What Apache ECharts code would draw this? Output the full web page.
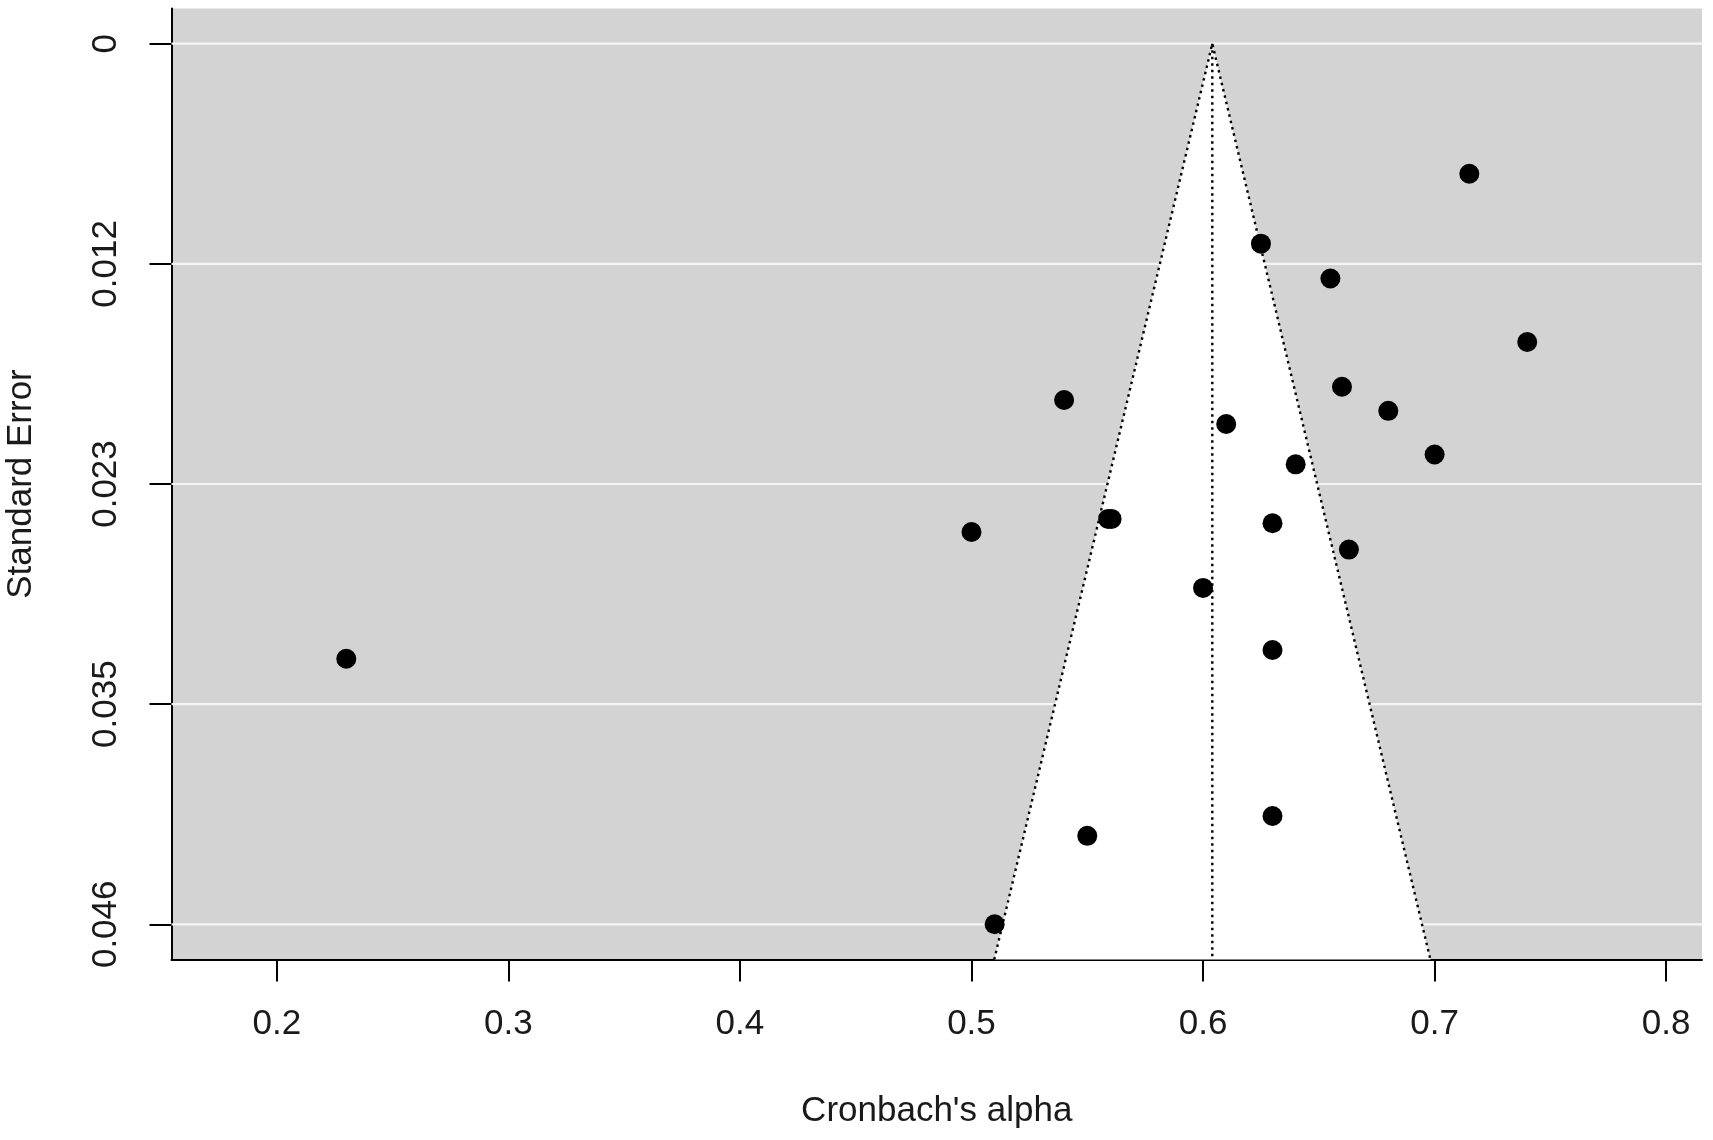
<!DOCTYPE html>
<html>
<head>
<meta charset="utf-8">
<title>Funnel plot</title>
<script src="https://cdn.jsdelivr.net/npm/echarts@6/dist/echarts.min.js"></script>
<style>
  html, body { margin: 0; padding: 0; background: #fff; }
  #chart { width: 1713px; height: 1140px; }
</style>
</head>
<body>
<div id="chart"></div>
<script>
// study estimates (Cronbach's alpha) and their standard errors
const alpha = [0.715, 0.625, 0.655, 0.74, 0.54, 0.66, 0.68, 0.61, 0.70, 0.64, 0.50,
  0.559, 0.5605, 0.63, 0.663, 0.60, 0.63, 0.23, 0.63, 0.55, 0.51]
const stdErr = [0.00682, 0.01049, 0.01232, 0.01565, 0.01869, 0.01800, 0.01926, 0.01995, 0.02155, 0.02207, 0.02562,
  0.02493, 0.02493, 0.02516, 0.02654, 0.02855, 0.03181, 0.03227, 0.04052, 0.04156, 0.0462]

// pooled estimate and 95% pseudo-confidence region
const pooled = 0.604
const zCrit = 1.96

// axis ticks
const xTicks = [0.2, 0.3, 0.4, 0.5, 0.6, 0.7, 0.8]
const xTickLabels = ['0.2', '0.3', '0.4', '0.5', '0.6', '0.7', '0.8']
const seMax = 0.0462
const yTicks = [0, seMax / 4, seMax / 2, seMax * 3 / 4, seMax]
const yTickLabels = ['0', '0.012', '0.023', '0.035', '0.046']

// R style limits: data range + 10%, then 4% axis padding
const xLo = Math.min(...alpha)
const xHi = Math.max(...alpha)
const xPad = (xHi - xLo) * 0.1
const xRange = (xHi - xLo) + 2 * xPad
const xMin = xLo - xPad - xRange * 0.04
const xMax = xHi + xPad + xRange * 0.04
const yMin = -seMax * 0.04
const yMax = seMax * 1.04

const FONT = '"Liberation Sans", Arial, Helvetica, sans-serif'
const TEXT = '#1a1a1a'

const chart = echarts.init(document.getElementById('chart'))

function nearestLabel(ticks, labels, v) {
  let best = 0
  ticks.forEach((t, i) => {
    if (Math.abs(t - v) < Math.abs(ticks[best] - v)) best = i
  })
  return labels[best]
}

function renderFunnel(params, api) {
  const dotted = { stroke: '#000', lineWidth: 2.4, lineDash: [2.5, 4], fill: null }
  const children = []
  // white reference lines at the tick positions
  yTicks.forEach(v => {
    const a = api.coord([xMin, v])
    const b = api.coord([xMax, v])
    children.push({
      type: 'line',
      shape: { x1: a[0], y1: a[1], x2: b[0], y2: b[1] },
      style: { stroke: '#f5f5f5', lineWidth: 2.2 }
    })
  })
  const left = api.coord([pooled - zCrit * yMax, yMax])
  const apex = api.coord([pooled, 0])
  const right = api.coord([pooled + zCrit * yMax, yMax])
  const base = api.coord([pooled, yMax])
  children.push({ type: 'polygon', shape: { points: [left, apex, right] }, style: { fill: '#fff' } })
  children.push({ type: 'polyline', shape: { points: [left, apex, right] }, style: dotted })
  children.push({ type: 'line', shape: { x1: apex[0], y1: apex[1], x2: base[0], y2: base[1] }, style: dotted })
  return { type: 'group', children: children }
}

chart.setOption({
  animation: false,
  grid: {
    left: 171.5,
    right: 11,
    top: 8.5,
    bottom: 180.5,
    show: true,
    backgroundColor: '#d3d3d3',
    borderWidth: 0,
    containLabel: false,
    outerBoundsMode: 'none'
  },
  xAxis: {
    type: 'value',
    min: xMin,
    max: xMax,
    name: 'Cronbach\'s alpha',
    nameLocation: 'middle',
    nameGap: 134,
    nameTextStyle: { fontFamily: FONT, fontSize: 35, color: TEXT },
    splitLine: { show: false },
    axisLine: { show: true, onZero: false, lineStyle: { color: '#000', width: 2 } },
    axisTick: { show: true, customValues: xTicks, length: 22, lineStyle: { color: '#000', width: 2 } },
    axisLabel: {
      customValues: xTicks,
      margin: 47,
      fontFamily: FONT,
      fontSize: 35,
      color: TEXT,
      formatter: v => nearestLabel(xTicks, xTickLabels, v)
    }
  },
  yAxis: {
    type: 'value',
    inverse: true,
    min: yMin,
    max: yMax,
    name: 'Standard Error',
    nameLocation: 'middle',
    nameRotate: 90,
    nameGap: 133,
    nameTextStyle: { fontFamily: FONT, fontSize: 35, color: TEXT },
    splitLine: { show: false },
    axisLine: { show: true, onZero: false, lineStyle: { color: '#000', width: 2 } },
    axisTick: { show: true, customValues: yTicks, length: 22, lineStyle: { color: '#000', width: 2 } },
    axisLabel: {
      customValues: yTicks,
      rotate: 90,
      margin: 48,
      fontFamily: FONT,
      fontSize: 35,
      color: TEXT,
      formatter: v => nearestLabel(yTicks, yTickLabels, v)
    }
  },
  series: [
    {
      type: 'custom',
      z: 1,
      silent: true,
      renderItem: renderFunnel,
      data: [[pooled, 0]]
    },
    {
      type: 'scatter',
      z: 3,
      symbol: 'circle',
      symbolSize: 20,
      itemStyle: { color: '#000', opacity: 1 },
      data: alpha.map((a, i) => [a, stdErr[i]])
    }
  ]
})
</script>
</body>
</html>
